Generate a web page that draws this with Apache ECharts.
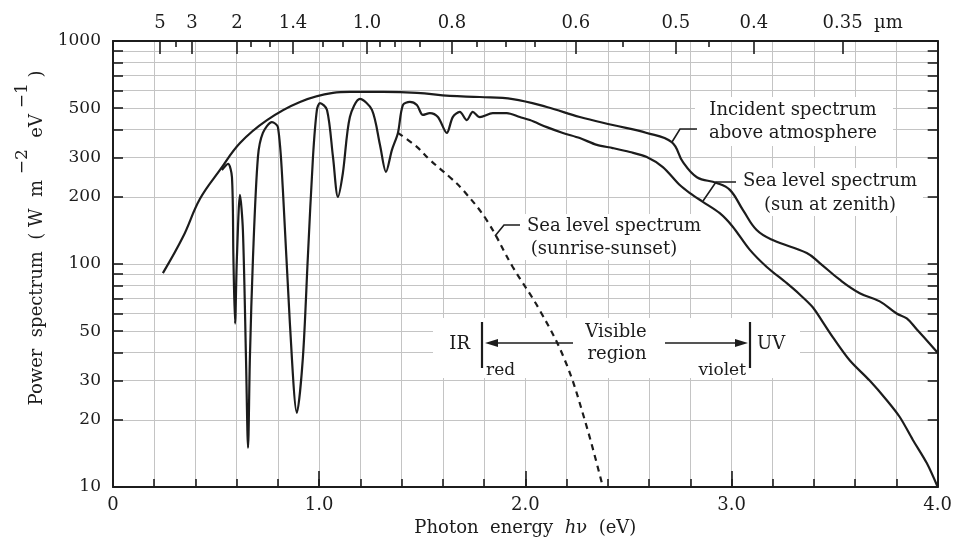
<!DOCTYPE html>
<html><head><meta charset="utf-8">
<script src="https://cdn.jsdelivr.net/npm/echarts@6/dist/echarts.min.js"></script>
<style>html,body{margin:0;padding:0;background:#fff}#c{width:955px;height:543px}</style>
</head><body><div id="c"></div>
<script>
// ---- data (photon energy in eV, power spectrum in W m^-2 eV^-1) ----
const incidentE = [0.242,0.339,0.422,0.519,0.616,0.747,0.907,1.067,1.149,1.309,1.474,1.634,1.779,1.939,2.104,2.264,2.424,2.589,2.710,2.764,2.832,2.928,2.992,3.055,3.122,3.200,3.365,3.428,3.525,3.622,3.719,3.801,3.850,3.898,4.000];
const incidentV = [91,132,196,264,349,442,533,585,591,591,585,567,561,549,506,456,420,387,352,287,245,231,215,175,142,128,112,101,85,74,68,60,57,51,40];

const zenithE = [0.528,0.558,0.577,0.584,0.592,0.601,0.616,0.630,0.645,0.655,0.664,0.679,0.703,0.727,0.771,0.800,0.824,0.858,0.892,0.921,0.945,0.970,0.989,1.004,1.038,1.067,1.091,1.115,1.149,1.198,1.256,1.295,1.324,1.353,1.382,1.406,1.440,1.474,1.503,1.537,1.576,1.619,1.648,1.682,1.716,1.745,1.779,1.842,1.910,1.973,2.022,2.104,2.182,2.264,2.347,2.424,2.507,2.589,2.667,2.749,2.798,2.861,2.943,3.006,3.088,3.171,3.268,3.331,3.394,3.442,3.491,3.573,3.670,3.753,3.816,3.879,3.947,4.000];
const zenithV = [264,281,245,107,54,107,204,142,38,15,38,107,302,387,433,411,215,54,21.5,38,107,302,491,527,491,302,200,256,456,550,491,342,259,325,387,516,533,516,466,475,456,387,456,481,442,481,456,475,475,456,442,411,387,367,342,331,318,302,272,226,208,190,169,147,116,97,82,73,64,55,47,37,30,24.5,20.6,16.3,12.8,10];

const sunsetE = [1.382,1.474,1.537,1.634,1.697,1.813,1.939,2.070,2.192,2.288,2.376];
const sunsetV = [387,335,293,245,215,157,97,62,37,20,10];

// ---- axis ticks / labels ----
const xLabelValues = [0,1,2,3,4];
const xMajorTicks = [1,2,3];
const yTickValues = [10,20,30,40,50,60,70,80,90,100,200,300,400,500,600,700,800,900,1000];
const yLabelValues = [10,20,30,50,100,200,300,500,1000];
const topMajorE = [0.228,0.383,0.601,0.873,1.232,1.644,2.245,2.730,3.108,3.539];
const topMajorLabels = ['5','3','2','1.4','1.0','0.8','0.6','0.5','0.4','0.35'];
const topMinorE = [0.305,0.669,0.761,1.018,1.115,1.295,1.367,1.488,1.765,1.905,2.046,2.473,2.890];

const zip = (a,b) => a.map((v,i)=>[v,b[i]]);
const FF = '"DejaVu Serif", serif';
const INK = '#1c1c1c';
const GRID = '#c4c4c4';

function nearestLabel(v){
  let bi=0, bd=1e9;
  topMajorE.forEach((e,i)=>{const d=Math.abs(e-v); if(d<bd){bd=d;bi=i;}});
  return topMajorLabels[bi];
}

const axisLineStyle = {color: INK, width: 2};
const tickStyle = {color: INK, width: 1.6};

const chart = echarts.init(document.getElementById('c'));

const T = (x,y,text,align,size,extra) => ({type:'text', x, y, z:20,
  style: Object.assign({text, fill: INK, fontFamily:'DejaVu Serif', fontSize: size||18, align: align||'center', verticalAlign:'middle'}, extra||{})});
const R = (x,y,w,h) => ({type:'rect', z:1, silent:true, shape:{x,y,width:w,height:h}, style:{fill:'#fff'}});
const L = (pts,w) => ({type:'polyline', z:20, shape:{points:pts}, style:{stroke: INK, lineWidth: w||1.6, fill:null}});
const P = (pts) => ({type:'polygon', z:20, shape:{points:pts}, style:{fill: INK}});

const option = {
  animation: false,
  backgroundColor: '#fff',
  grid: {left:113, right:17, top:41, bottom:56, containLabel:false},
  xAxis: [
    {type:'value', min:0, max:4, interval:0.2, position:'bottom',
     axisLine:{show:true, onZero:false, lineStyle:axisLineStyle},
     axisTick:{show:true, inside:true, length:8, lineStyle:tickStyle},
     axisLabel:{customValues:xLabelValues, formatter:v=> v===0?'0':v.toFixed(1), fontFamily:FF, fontSize:18, color:INK, margin:9},
     splitLine:{show:true, lineStyle:{color:GRID, width:1}},
     name:'Photon  energy  {i|h}ν  (eV)', nameLocation:'middle', nameGap:31,
     nameTextStyle:{fontFamily:FF, fontSize:18, color:INK, rich:{i:{fontStyle:'italic', fontFamily:FF, fontSize:18, color:INK}}}
    },
    {type:'value', min:0, max:4, position:'bottom',
     axisLine:{show:false, onZero:false},
     axisTick:{show:true, inside:true, length:16, customValues:xMajorTicks, lineStyle:tickStyle},
     axisLabel:{show:false}, splitLine:{show:false}},
    {type:'value', min:0, max:4, position:'top',
     axisLine:{show:true, onZero:false, lineStyle:axisLineStyle},
     axisTick:{show:true, inside:true, length:13, customValues:topMajorE, lineStyle:tickStyle},
     axisLabel:{customValues:topMajorE, formatter:v=>nearestLabel(v), fontFamily:FF, fontSize:18, color:INK, margin:9},
     splitLine:{show:false}},
    {type:'value', min:0, max:4, position:'top',
     axisLine:{show:false, onZero:false},
     axisTick:{show:true, inside:true, length:6, customValues:topMinorE, lineStyle:tickStyle},
     axisLabel:{show:false}, splitLine:{show:false}}
  ],
  yAxis: [
    {type:'log', logBase:10, min:10, max:1000, position:'left',
     axisLine:{show:true, onZero:false, lineStyle:axisLineStyle},
     axisTick:{show:true, inside:true, length:10, customValues:yTickValues, lineStyle:tickStyle},
     axisLabel:{customValues:yLabelValues, formatter:v=>String(Math.round(v)), fontFamily:FF, fontSize:17, color:INK, margin:12},
     splitLine:{show:true, lineStyle:{color:GRID, width:1}}},
    {type:'log', logBase:10, min:10, max:1000, position:'right',
     axisLine:{show:true, onZero:false, lineStyle:axisLineStyle},
     axisTick:{show:true, inside:true, length:10, customValues:yTickValues, lineStyle:tickStyle},
     axisLabel:{show:false}, splitLine:{show:false}}
  ],
  series: [
    {name:'Incident spectrum above atmosphere', type:'line', xAxisIndex:0, yAxisIndex:0, data:zip(incidentE,incidentV),
     showSymbol:false, smooth:0.4, z:3, lineStyle:{color:INK, width:2.2}},
    {name:'Sea level spectrum (sun at zenith)', type:'line', xAxisIndex:0, yAxisIndex:0, data:zip(zenithE,zenithV),
     showSymbol:false, smooth:0.3, z:3, lineStyle:{color:INK, width:2.2}},
    {name:'Sea level spectrum (sunrise-sunset)', type:'line', xAxisIndex:0, yAxisIndex:0, data:zip(sunsetE,sunsetV),
     showSymbol:false, smooth:0.4, z:3, lineStyle:{color:INK, width:2.2, type:[6,5]}}
  ],
  graphic: [
    // white boxes behind annotations
    R(695,97,198,49),
    R(737,168,186,48),
    R(515,214,200,46),
    R(433,318,367,60),
    // Incident label
    T(793,110,'Incident spectrum'), T(793,133,'above atmosphere'),
    L([[672,142],[680,129],[697,129]]),
    // Zenith label
    T(830,181,'Sea level spectrum'), T(830,205,'(sun at zenith)'),
    L([[703,201],[716,182],[736,182]]),
    // Sunrise label
    T(614,226,'Sea level spectrum'), T(604,249,'(sunrise-sunset)'),
    L([[495,236],[504,225],[520,225]]),
    // Visible region
    T(470,344,'IR','right'), T(757,344,'UV','left'),
    T(616,332,'Visible'), T(617,354,'region'),
    T(486,371,'red','left',17), T(746,371,'violet','right',17),
    L([[482,322],[482,368]],2.2), L([[750,322],[750,368]],2.2),
    L([[496,343],[573,343]],1.6), P([[485,343],[498,339],[498,347]]),
    L([[665,343],[737,343]],1.6), P([[748,343],[735,339],[735,347]]),
    // top unit
    T(874,23,'µm','left',18),
    // y axis name
    {type:'text', x:37, y:238, rotation:Math.PI/2, z:20,
     style:{text:'Power  spectrum  ( W  m {s|−2}  eV {s|−1} )', fill:INK, fontFamily:'DejaVu Serif', fontSize:18,
            align:'center', verticalAlign:'middle', lineHeight:46,
            rich:{s:{fontFamily:'DejaVu Serif', fontSize:17, fill:INK, verticalAlign:'top', lineHeight:16}}}}
  ]
};
chart.setOption(option);
</script>
</body></html>
